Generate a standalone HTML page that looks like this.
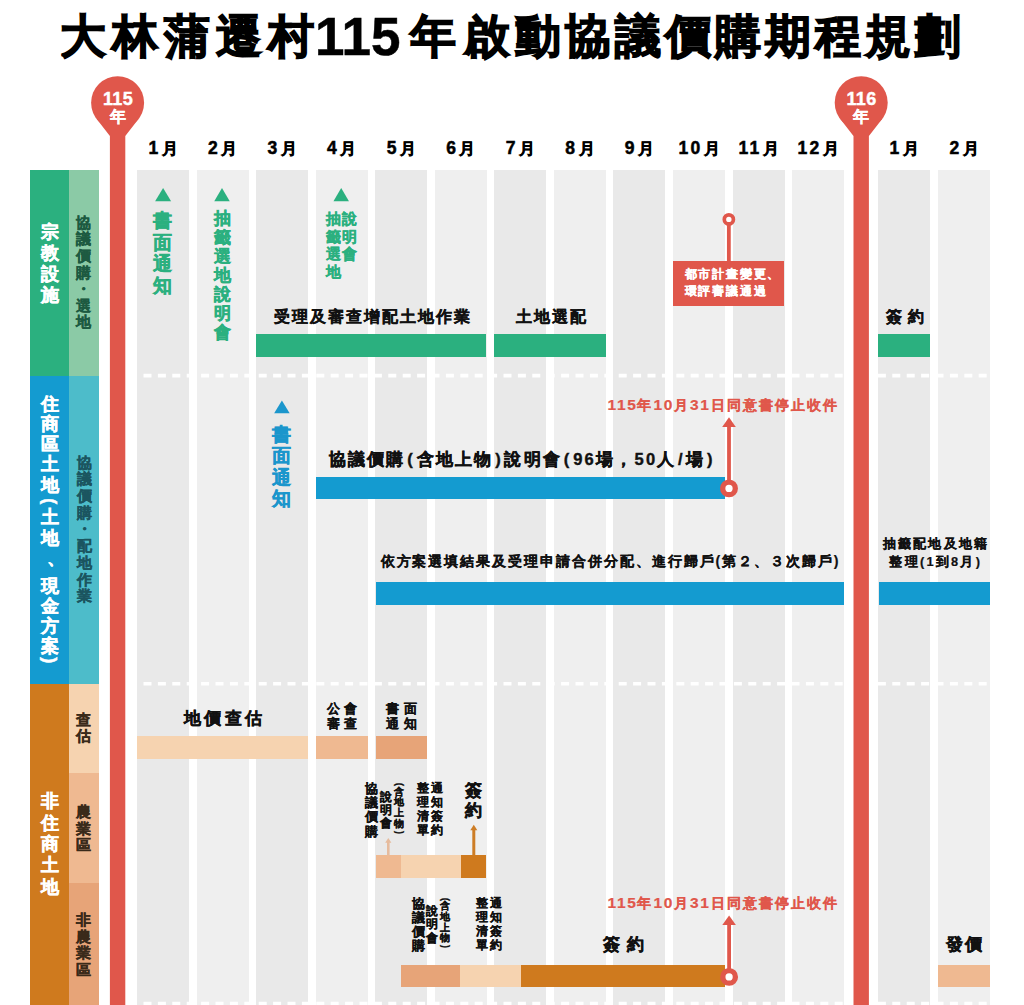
<!DOCTYPE html>
<html lang="zh-Hant-TW">
<head>
<meta charset="utf-8">
<title>大林蒲遷村115年啟動協議價購期程規劃</title>
<style>
html,body{margin:0;padding:0;background:#fff;}
body{width:1024px;height:1005px;position:relative;overflow:hidden;font-family:"Liberation Sans",sans-serif;font-weight:bold;color:#111;}
.abs,.col,.bar,.t,.v,.m{position:absolute;}
.col{top:170.2px;height:835px;width:52px;background:#e9e9e9;}
.col.e{background:#efefef;}
.t{white-space:nowrap;line-height:1;}
.v{text-align:center;white-space:nowrap;}
.m{-webkit-text-stroke-width:0.5px;top:139px;width:60px;margin-left:-30px;text-align:center;font-size:17.5px;letter-spacing:2.3px;line-height:18px;white-space:nowrap;color:#000;}
.bar{height:22.5px;}
.g{background:#2bb07f}.b{background:#149bd0}.o{background:#cf7a1e}.p1{background:#f6d3b0}.p2{background:#efb991}.p3{background:#e7a478}
.ttl{position:absolute;top:11px;font-size:46.4px;line-height:50px;white-space:nowrap;color:#000;-webkit-text-stroke:1.4px #000;}
.y{font-size:15.6px;margin-left:1.2px}
.pa{margin:0 1.6px}.sl{margin:0 1.4px}.d{letter-spacing:1.6px;font-size:15.5px}
svg{position:absolute;left:0;top:0;}
.c{display:block;}
.r{display:inline-block;position:relative;transform:rotate(90deg);}
.q{position:relative;}

</style>
</head>
<body>
<div class="ttl" style="left:60px;letter-spacing:6.1px">大林蒲遷村</div>
<div class="ttl" style="left:315px;font-size:53px;letter-spacing:0;top:12px;-webkit-text-stroke:0.5px #000">115</div>
<div class="ttl" style="left:410px;letter-spacing:8.1px">年啟</div>
<div class="ttl" style="left:514.5px;letter-spacing:4.0px">動協議價購期程規劃</div>
<div class="col" style="left:137.1px"></div>
<div class="col e" style="left:196.6px"></div>
<div class="col" style="left:256.2px"></div>
<div class="col e" style="left:315.7px"></div>
<div class="col" style="left:375.3px"></div>
<div class="col e" style="left:434.8px"></div>
<div class="col" style="left:494.3px"></div>
<div class="col e" style="left:553.9px"></div>
<div class="col" style="left:613.4px"></div>
<div class="col e" style="left:673.0px"></div>
<div class="col" style="left:732.5px"></div>
<div class="col e" style="left:792.0px"></div>
<div class="col" style="left:878.2px"></div>
<div class="col e" style="left:938.0px"></div>
<div class="m" style="left:164.3px">1<span class="y">月</span></div>
<div class="m" style="left:223.8px">2<span class="y">月</span></div>
<div class="m" style="left:283.4px">3<span class="y">月</span></div>
<div class="m" style="left:342.9px">4<span class="y">月</span></div>
<div class="m" style="left:402.5px">5<span class="y">月</span></div>
<div class="m" style="left:462.0px">6<span class="y">月</span></div>
<div class="m" style="left:521.5px">7<span class="y">月</span></div>
<div class="m" style="left:581.1px">8<span class="y">月</span></div>
<div class="m" style="left:640.6px">9<span class="y">月</span></div>
<div class="m" style="left:700.2px">10<span class="y">月</span></div>
<div class="m" style="left:759.7px">11<span class="y">月</span></div>
<div class="m" style="left:819.2px">12<span class="y">月</span></div>
<div class="m" style="left:905.4px">1<span class="y">月</span></div>
<div class="m" style="left:965.2px">2<span class="y">月</span></div>
<div class="abs" style="left:30px;top:170px;width:39px;height:205.6px;background:#2bb07f"></div>
<div class="abs" style="left:69px;top:170px;width:29.8px;height:205.6px;background:#8bcaa6"></div>
<div class="abs" style="left:30px;top:375.6px;width:39px;height:308.1px;background:#149bd0"></div>
<div class="abs" style="left:69px;top:375.6px;width:29.8px;height:308.1px;background:#4dbcca"></div>
<div class="abs" style="left:30px;top:683.7px;width:39px;height:321.3px;background:#cf7a1e"></div>
<div class="abs" style="left:69px;top:683.7px;width:29.8px;height:89px;background:#f6d3b0"></div>
<div class="abs" style="left:69px;top:772.7px;width:29.8px;height:110.6px;background:#efb991"></div>
<div class="abs" style="left:69px;top:883.3px;width:29.8px;height:121.7px;background:#e7a478"></div>
<div class="bar g" style="left:256.2px;top:334.0px;width:230.2px;height:22.9px"></div>
<div class="bar g" style="left:494.4px;top:334.0px;width:111.4px;height:22.9px"></div>
<div class="bar g" style="left:878.4px;top:334.0px;width:51.7px;height:22.9px"></div>
<div class="bar b" style="left:316.0px;top:476.7px;width:408.7px;height:22.7px"></div>
<div class="bar b" style="left:375.6px;top:581.9px;width:468.2px;height:22.8px"></div>
<div class="bar b" style="left:878.7px;top:581.9px;width:111.4px;height:22.8px"></div>
<div class="bar p1" style="left:137.1px;top:735.9px;width:171.0px;height:22.8px"></div>
<div class="bar p2" style="left:315.9px;top:735.9px;width:52.1px;height:22.8px"></div>
<div class="bar p3" style="left:375.6px;top:735.9px;width:51.8px;height:22.8px"></div>
<div class="bar p2" style="left:375.8px;top:854.9px;width:25.2px;height:22.7px"></div>
<div class="bar p1" style="left:401.0px;top:854.9px;width:60.3px;height:22.7px"></div>
<div class="bar o" style="left:461.3px;top:854.9px;width:25.1px;height:22.7px"></div>
<div class="bar p3" style="left:400.8px;top:965.0px;width:59.2px;height:22.4px"></div>
<div class="bar p1" style="left:460.0px;top:965.0px;width:60.8px;height:22.4px"></div>
<div class="bar o" style="left:520.8px;top:965.0px;width:203.8px;height:22.4px"></div>
<div class="bar p2" style="left:937.9px;top:965.0px;width:52.0px;height:22.4px"></div>
<svg width="1024" height="1005" viewBox="0 0 1024 1005">
<line x1="137.5" y1="375.6" x2="990" y2="375.6" stroke="#fff" stroke-width="3.6" stroke-dasharray="8 6.4" stroke-dashoffset="-6"/>
<line x1="137.5" y1="683.8" x2="990" y2="683.8" stroke="#fff" stroke-width="3.6" stroke-dasharray="8 6.4" stroke-dashoffset="-6"/>
<line x1="137.5" y1="1003.6" x2="990" y2="1003.6" stroke="#fff" stroke-width="3.6" stroke-dasharray="8 6.4" stroke-dashoffset="-6"/>
<circle cx="117.60" cy="102.75" r="26.50" fill="#e0574b"/>
<path d="M96.69 119.03 L109.90 136.00 L109.90 1005 L125.30 1005 L125.30 136.00 L138.51 119.03 Z" fill="#e0574b"/>
<circle cx="861.20" cy="102.75" r="26.50" fill="#e0574b"/>
<path d="M840.29 119.03 L853.50 136.00 L853.50 1005 L868.90 1005 L868.90 136.00 L882.11 119.03 Z" fill="#e0574b"/>
<path d="M163.10 188.00 L171.10 201.30 L155.10 201.30 Z" fill="#2bb07f"/>
<path d="M222.00 188.00 L229.75 201.30 L214.25 201.30 Z" fill="#2bb07f"/>
<path d="M341.20 188.00 L348.95 201.30 L333.45 201.30 Z" fill="#2bb07f"/>
<path d="M281.90 400.40 L289.65 413.30 L274.15 413.30 Z" fill="#1b96cc"/>
<line x1="728.85" y1="224" x2="728.85" y2="261.5" stroke="#e0574b" stroke-width="3.8"/>
<circle cx="728.85" cy="219.4" r="4.55" fill="#fff" stroke="#e0574b" stroke-width="3.7"/>
<line x1="729.0" y1="423.3" x2="729.0" y2="482.4" stroke="#e0574b" stroke-width="3.8"/>
<path d="M729.0 417.3 L735.8 426.9 L722.2 426.9 Z" fill="#e0574b"/>
<circle cx="729.0" cy="488.4" r="6.3" fill="#fff" stroke="#e0574b" stroke-width="5.3"/>
<line x1="729.1" y1="921.5" x2="729.1" y2="970.9" stroke="#e0574b" stroke-width="3.8"/>
<path d="M729.1 915.5 L735.9 925.1 L722.3 925.1 Z" fill="#e0574b"/>
<circle cx="729.1" cy="976.9" r="6.3" fill="#fff" stroke="#e0574b" stroke-width="5.3"/>
<line x1="388.3" y1="841.8" x2="388.3" y2="855.5" stroke="#e6bb9d" stroke-width="2.6"/>
<path d="M388.3 838.0 L391.4 842.8 L385.2 842.8 Z" fill="#e6bb9d"/>
<line x1="473.8" y1="829.3" x2="473.8" y2="855.5" stroke="#cd7d26" stroke-width="3.0"/>
<path d="M473.8 824.8 L477.3 830.3 L470.3 830.3 Z" fill="#cd7d26"/>
</svg>
<div class="abs" style="left:673px;top:260.7px;width:111px;height:45.3px;background:#e0574b"></div>
<div class="t" style="left:684.6px;top:267.8px;font-size:12.0px;letter-spacing:1.80px;color:#fff;-webkit-text-stroke-width:0.22px;">都市計畫變更、</div>
<div class="t" style="left:684.6px;top:285.4px;font-size:12.0px;letter-spacing:1.80px;color:#fff;-webkit-text-stroke-width:0.22px;">環評審議通過</div>
<div class="t" style="left:103.0px;top:90.0px;font-size:18.0px;letter-spacing:0.30px;color:#fff;-webkit-text-stroke-width:0.43px;">115</div>
<div class="t" style="left:109.5px;top:109.0px;font-size:16.0px;letter-spacing:0.00px;color:#fff;-webkit-text-stroke-width:0.32px;">年</div>
<div class="t" style="left:846.5px;top:90.0px;font-size:18.0px;letter-spacing:0.30px;color:#fff;-webkit-text-stroke-width:0.43px;">116</div>
<div class="t" style="left:853.1px;top:109.0px;font-size:16.0px;letter-spacing:0.00px;color:#fff;-webkit-text-stroke-width:0.32px;">年</div>
<div class="t" style="left:273.6px;top:308.8px;font-size:15.6px;letter-spacing:2.00px;color:#111;-webkit-text-stroke-width:0.32px;">受理及審查增配土地作業</div>
<div class="t" style="left:515.6px;top:308.8px;font-size:15.6px;letter-spacing:2.00px;color:#111;-webkit-text-stroke-width:0.32px;">土地選配</div>
<div class="t" style="left:886.2px;top:308.8px;font-size:15.6px;letter-spacing:6.20px;color:#111;-webkit-text-stroke-width:0.32px;">簽約</div>
<div class="t" style="left:328.6px;top:451.0px;font-size:16.5px;letter-spacing:2.25px;color:#111;-webkit-text-stroke-width:0.40px;">協議價購<span class="pa">(</span>含地上物<span class="pa">)</span>說明會<span class="pa">(</span>96場，50人<span class="sl">/</span>場<span class="pa">)</span></div>
<div class="t" style="left:380.6px;top:553.6px;font-size:14.2px;letter-spacing:1.95px;color:#111;-webkit-text-stroke-width:0.22px;">依方案選填結果及受理申請合併分配、進行歸戶(第２、３次歸戶)</div>
<div class="t" style="left:882.9px;top:538.0px;font-size:12.8px;letter-spacing:2.20px;color:#111;-webkit-text-stroke-width:0.22px;">抽籤配地及地籍</div>
<div class="t" style="left:889.4px;top:555.6px;font-size:12.8px;letter-spacing:2.25px;color:#111;-webkit-text-stroke-width:0.22px;">整理(1到8月)</div>
<div class="t" style="left:607.6px;top:397.2px;font-size:14.0px;letter-spacing:2.10px;color:#e0574b;-webkit-text-stroke-width:0.22px;"><span class="d">115</span>年<span class="d">10</span>月<span class="d">31</span>日同意書停止收件</div>
<div class="t" style="left:607.6px;top:895.0px;font-size:14.0px;letter-spacing:2.10px;color:#e0574b;-webkit-text-stroke-width:0.22px;"><span class="d">115</span>年<span class="d">10</span>月<span class="d">31</span>日同意書停止收件</div>
<div class="t" style="left:183.9px;top:709.8px;font-size:16.5px;letter-spacing:3.45px;color:#111;-webkit-text-stroke-width:0.40px;">地價查估</div>
<div class="t" style="left:327.0px;top:702.0px;font-size:13.0px;letter-spacing:4.30px;color:#111;-webkit-text-stroke-width:0.22px;">公會</div>
<div class="t" style="left:327.0px;top:717.4px;font-size:13.0px;letter-spacing:4.30px;color:#111;-webkit-text-stroke-width:0.22px;">審查</div>
<div class="t" style="left:386.3px;top:702.0px;font-size:13.0px;letter-spacing:4.30px;color:#111;-webkit-text-stroke-width:0.22px;">書面</div>
<div class="t" style="left:386.3px;top:717.4px;font-size:13.0px;letter-spacing:4.30px;color:#111;-webkit-text-stroke-width:0.22px;">通知</div>
<div class="t" style="left:603.0px;top:936.0px;font-size:17.0px;letter-spacing:6.90px;color:#111;-webkit-text-stroke-width:0.41px;">簽約</div>
<div class="t" style="left:946.4px;top:936.0px;font-size:17.0px;letter-spacing:1.60px;color:#111;-webkit-text-stroke-width:0.41px;">發價</div>
<div class="v" style="left:144.0px;top:210.0px;width:37.0px;font-size:18.5px;line-height:21.70px;color:#2bb07f;-webkit-text-stroke-width:0.44px"><span class="c">書</span><span class="c">面</span><span class="c">通</span><span class="c">知</span></div>
<div class="v" style="left:205.2px;top:210.2px;width:34.0px;font-size:17.0px;line-height:18.90px;color:#2bb07f;-webkit-text-stroke-width:0.41px"><span class="c">抽</span><span class="c">籤</span><span class="c">選</span><span class="c">地</span><span class="c">說</span><span class="c">明</span><span class="c">會</span></div>
<div class="v" style="left:318.8px;top:209.9px;width:30.0px;font-size:15.0px;line-height:17.80px;color:#2bb07f;-webkit-text-stroke-width:0.32px"><span class="c">抽</span><span class="c">籤</span><span class="c">選</span><span class="c">地</span></div>
<div class="v" style="left:334.8px;top:209.9px;width:30.0px;font-size:15.0px;line-height:17.80px;color:#2bb07f;-webkit-text-stroke-width:0.32px"><span class="c">說</span><span class="c">明</span><span class="c">會</span></div>
<div class="v" style="left:262.8px;top:423.9px;width:37.0px;font-size:18.5px;line-height:21.40px;color:#1b96cc;-webkit-text-stroke-width:0.44px"><span class="c">書</span><span class="c">面</span><span class="c">通</span><span class="c">知</span></div>
<div class="v" style="left:32.2px;top:222.1px;width:36.4px;font-size:18.2px;line-height:21.00px;color:#fff;-webkit-text-stroke-width:0.44px"><span class="c">宗</span><span class="c">教</span><span class="c">設</span><span class="c">施</span></div>
<div class="v" style="left:68.8px;top:214.8px;width:30.0px;font-size:15.0px;line-height:16.60px;color:#1d5a41;-webkit-text-stroke-width:0.32px"><span class="c">協</span><span class="c">議</span><span class="c">價</span><span class="c">購</span><span class="c">・</span><span class="c">選</span><span class="c">地</span></div>
<div class="v" style="left:32.1px;top:393.8px;width:36.4px;font-size:18.2px;line-height:20.20px;color:#fff;-webkit-text-stroke-width:0.44px"><span class="c">住</span><span class="c">商</span><span class="c">區</span><span class="c">土</span><span class="c">地</span><span class="c" style="height:12.60px;line-height:12.60px"><span class="r" style="left:0.0px;top:0.0px">(</span></span><span class="c">土</span><span class="c">地</span><span class="c" style="height:28.00px;line-height:28.00px"><span class="q" style="left:6.0px;top:-4.0px">、</span></span><span class="c">現</span><span class="c">金</span><span class="c">方</span><span class="c">案</span><span class="c" style="height:12.60px;line-height:12.60px"><span class="r" style="left:0.0px;top:-3.0px">)</span></span></div>
<div class="v" style="left:69.2px;top:454.6px;width:30.0px;font-size:15.0px;line-height:16.70px;color:#1b5560;-webkit-text-stroke-width:0.32px"><span class="c">協</span><span class="c">議</span><span class="c">價</span><span class="c">購</span><span class="c">・</span><span class="c">配</span><span class="c">地</span><span class="c">作</span><span class="c">業</span></div>
<div class="v" style="left:31.8px;top:791.2px;width:36.4px;font-size:18.2px;line-height:21.40px;color:#fff;-webkit-text-stroke-width:0.44px"><span class="c">非</span><span class="c">住</span><span class="c">商</span><span class="c">土</span><span class="c">地</span></div>
<div class="v" style="left:68.2px;top:712.1px;width:30.0px;font-size:15.0px;line-height:16.30px;color:#3a2a1a;-webkit-text-stroke-width:0.32px"><span class="c">查</span><span class="c">估</span></div>
<div class="v" style="left:68.2px;top:804.2px;width:30.0px;font-size:15.0px;line-height:16.50px;color:#3a2a1a;-webkit-text-stroke-width:0.32px"><span class="c">農</span><span class="c">業</span><span class="c">區</span></div>
<div class="v" style="left:68.2px;top:912.0px;width:30.0px;font-size:15.0px;line-height:16.50px;color:#3a2a1a;-webkit-text-stroke-width:0.32px"><span class="c">非</span><span class="c">農</span><span class="c">業</span><span class="c">區</span></div>
<div class="v" style="left:358.9px;top:781.8px;width:25.2px;font-size:12.6px;line-height:14.25px;color:#111;-webkit-text-stroke-width:0.22px"><span class="c">協</span><span class="c">議</span><span class="c">價</span><span class="c">購</span></div>
<div class="v" style="left:373.5px;top:790.9px;width:24.0px;font-size:12.0px;line-height:13.30px;color:#111;-webkit-text-stroke-width:0.22px"><span class="c">說</span><span class="c">明</span><span class="c">會</span></div>
<div class="v" style="left:388.7px;top:782.0px;width:20.0px;font-size:10.0px;line-height:10.70px;color:#111;-webkit-text-stroke-width:0.22px"><span class="c" style="height:4.70px;line-height:4.70px"><span class="r" style="left:0.0px;top:0.0px">(</span></span><span class="c">含</span><span class="c">地</span><span class="c">上</span><span class="c">物</span><span class="c" style="height:4.70px;line-height:4.70px"><span class="r" style="left:0.0px;top:0.0px">)</span></span></div>
<div class="v" style="left:411.2px;top:781.8px;width:24.6px;font-size:12.3px;line-height:13.90px;color:#111;-webkit-text-stroke-width:0.22px"><span class="c">整</span><span class="c">理</span><span class="c">清</span><span class="c">單</span></div>
<div class="v" style="left:424.6px;top:781.8px;width:24.6px;font-size:12.3px;line-height:13.90px;color:#111;-webkit-text-stroke-width:0.22px"><span class="c">通</span><span class="c">知</span><span class="c">簽</span><span class="c">約</span></div>
<div class="v" style="left:457.4px;top:780.9px;width:33.2px;font-size:16.6px;line-height:19.80px;color:#111;-webkit-text-stroke-width:0.40px"><span class="c">簽</span><span class="c">約</span></div>
<div class="v" style="left:405.5px;top:896.5px;width:25.2px;font-size:12.6px;line-height:14.25px;color:#111;-webkit-text-stroke-width:0.22px"><span class="c">協</span><span class="c">議</span><span class="c">價</span><span class="c">購</span></div>
<div class="v" style="left:419.5px;top:905.0px;width:24.0px;font-size:12.0px;line-height:13.30px;color:#111;-webkit-text-stroke-width:0.22px"><span class="c">說</span><span class="c">明</span><span class="c">會</span></div>
<div class="v" style="left:435.0px;top:896.5px;width:20.0px;font-size:10.0px;line-height:10.70px;color:#111;-webkit-text-stroke-width:0.22px"><span class="c" style="height:4.70px;line-height:4.70px"><span class="r" style="left:0.0px;top:0.0px">(</span></span><span class="c">含</span><span class="c">地</span><span class="c">上</span><span class="c">物</span><span class="c" style="height:4.70px;line-height:4.70px"><span class="r" style="left:0.0px;top:0.0px">)</span></span></div>
<div class="v" style="left:470.0px;top:896.2px;width:24.6px;font-size:12.3px;line-height:14.00px;color:#111;-webkit-text-stroke-width:0.22px"><span class="c">整</span><span class="c">理</span><span class="c">清</span><span class="c">單</span></div>
<div class="v" style="left:484.0px;top:896.2px;width:24.6px;font-size:12.3px;line-height:14.00px;color:#111;-webkit-text-stroke-width:0.22px"><span class="c">通</span><span class="c">知</span><span class="c">簽</span><span class="c">約</span></div>
</body>
</html>
